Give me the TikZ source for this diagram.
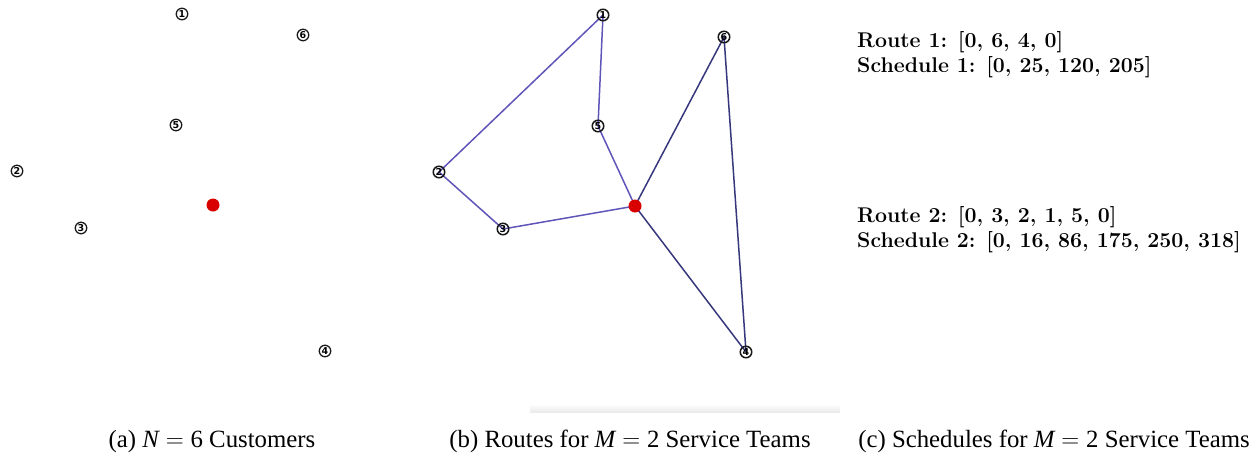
\documentclass[tikz,border=0pt]{standalone}
\usepackage{fontspec}
\newfontfamily\timesfont{Liberation Serif}
\newfontfamily\symfont{DejaVu Sans}
\usetikzlibrary{backgrounds}
\definecolor{teamA}{RGB}{55,55,125}
\definecolor{teamB}{RGB}{95,85,185}
\begin{document}
\begin{tikzpicture}[x=1pt,y=-1pt,
  cust/.style={circle, draw=black!90, line width=1.3pt, inner sep=0pt, minimum size=11.5pt, font=\symfont\bfseries\fontsize{9.5}{9.5}\selectfont},
  custb/.style={cust, line width=1.5pt},
  depot/.style={circle, fill=red!85!black, inner sep=0pt, minimum size=13pt},
  routeA/.style={draw=teamA, line width=1.5pt},
  routeB/.style={draw=teamB, line width=1.5pt},
  captext/.style={font=\timesfont\fontsize{24.8}{28}\selectfont, anchor=base},
  sched/.style={font=\bfseries\fontsize{21.3}{26}\selectfont, anchor=base west, inner sep=0pt}]
\useasboundingbox (0,0) rectangle (1260,456);
% panel (a)
\node[cust] (a1) at (182,14) {1};
\node[cust] (a6) at (303,35) {6};
\node[cust] (a5) at (176,125) {5};
\node[cust] (a2) at (17,171) {2};
\node[depot] (a0) at (213,205) {};
\node[cust] (a3) at (81,228) {3};
\node[cust] (a4) at (325,351) {4};
% panel (b)
\shade[top color=white, bottom color=black!8] (530,404) rectangle (840,412);
\node[custb] (b1) at (603,15) {1};
\node[custb] (b6) at (724,37) {6};
\node[custb] (b5) at (598,126) {5};
\node[custb] (b2) at (439,172) {2};
\node[custb] (b3) at (503,229) {3};
\node[custb] (b4) at (746,352) {4};
\node[depot] (b0) at (635,206) {};
\begin{scope}[on background layer]
\draw[routeA] (b0.center) -- (b6.center) -- (b4.center) -- (b0.center);
\draw[routeB] (b0.center) -- (b3.center) -- (b2.center) -- (b1.center) -- (b5.center) -- (b0.center);
\end{scope}
% panel (c)
\node[sched] (r1) at (857,47) {Route 1: [0, 6, 4, 0]};
\node[sched] (s1) at (857,72) {Schedule 1: [0, 25, 120, 205]};
\node[sched] (r2) at (857,222) {Route 2: [0, 3, 2, 1, 5, 0]};
\node[sched] (s2) at (857,247) {Schedule 2: [0, 16, 86, 175, 250, 318]};
% captions
\node[captext] (ca) at (212,447) {(a) {\itshape N}\;$=$\;6 Customers};
\node[captext] (cb) at (630,447) {(b) Routes for {\itshape M}\;$=$\;2 Service Teams};
\node[captext] (cc) at (1054,447) {(c) Schedules for {\itshape M}\;$=$\;2 Service Teams};
\end{tikzpicture}
\end{document}
